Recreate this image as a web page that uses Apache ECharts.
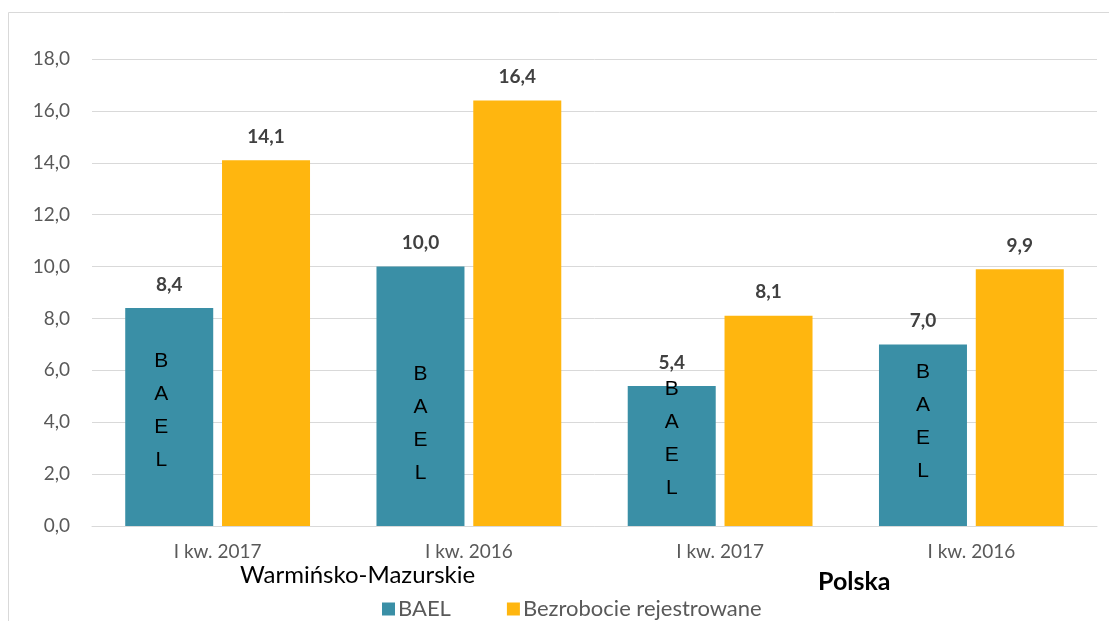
<!DOCTYPE html>
<html>
<head>
<meta charset="utf-8">
<script src="https://cdn.jsdelivr.net/npm/echarts@6/dist/echarts.min.js"></script>
<style>
  html, body { margin: 0; padding: 0; background: #fff; }
  #chart { width: 1109px; height: 621px; }
</style>
</head>
<body>
<div id="chart"></div>
<script>
// dane
const categories = ['I kw. 2017', 'I kw. 2016', 'I kw. 2017', 'I kw. 2016']
const baelValues = [8.4, 10.0, 5.4, 7.0]
const registeredValues = [14.1, 16.4, 8.1, 9.9]
const seriesNames = ['BAEL', 'Bezrobocie rejestrowane']
const groupNames = ['Warmińsko-Mazurskie', 'Polska']

// przesuniecia napisu "BAEL" w slupkach (tylko styl)
const baelLabelOffsets = [[-8, -6], [0, 27], [0, -17], [0, -13]]

const fmt = (v) => v.toFixed(1).replace('.', ',')
const FONT = 'Lato'

const myEchart = echarts.init(document.getElementById('chart'))

const valueLabel = {
  show: true,
  position: 'top',
  distance: 14,
  fontFamily: FONT,
  fontWeight: 'bold',
  fontSize: 19,
  color: '#404040',
  formatter: (p) => fmt(p.value)
}

const option = {
  animation: false,
  grid: {
    left: 92,
    right: 12,
    top: 59,
    bottom: 95
  },
  legend: {
    data: seriesNames,
    left: 377,
    top: 593,
    icon: 'rect',
    itemWidth: 13,
    itemHeight: 13,
    itemGap: 56,
    textStyle: {
      fontFamily: FONT,
      fontSize: 22,
      color: '#595959',
      padding: [0, 0, 0, -2]
    }
  },
  xAxis: [
    {
      type: 'category',
      data: categories,
      axisTick: { show: false },
      axisLine: { lineStyle: { color: '#d9d9d9' } },
      axisLabel: {
        fontFamily: FONT,
        fontSize: 19,
        color: '#595959',
        margin: 16,
        interval: 0
      }
    },
    {
      // os pomocnicza dla napisow w slupkach BAEL
      type: 'category',
      data: categories,
      show: false
    }
  ],
  yAxis: {
    type: 'value',
    min: 0,
    max: 18,
    interval: 2,
    axisLine: { show: false },
    axisTick: { show: false },
    axisLabel: {
      fontFamily: FONT,
      fontSize: 19,
      color: '#595959',
      margin: 22,
      formatter: (v) => fmt(v)
    },
    splitLine: { lineStyle: { color: '#d9d9d9', width: 1 } }
  },
  series: [
    {
      name: seriesNames[0],
      type: 'bar',
      data: baelValues,
      barWidth: 88,
      itemStyle: { color: '#3a8fa6' },
      label: valueLabel
    },
    {
      name: seriesNames[1],
      type: 'bar',
      data: registeredValues,
      barWidth: 88,
      barGap: '10%',
      itemStyle: { color: '#ffb60f' },
      label: valueLabel
    },
    {
      name: 'BAEL-napis',
      type: 'bar',
      xAxisIndex: 1,
      silent: true,
      data: baelValues.map((v, i) => ({
        value: v,
        label: { offset: baelLabelOffsets[i] }
      })),
      barWidth: 88,
      itemStyle: { color: 'transparent' },
      label: {
        show: true,
        position: 'inside',
        formatter: 'B\nA\nE\nL',
        fontFamily: 'Liberation Sans',
        fontSize: 21,
        lineHeight: 33,
        color: '#000'
      }
    },
    {
      name: 'pusty',
      type: 'bar',
      xAxisIndex: 1,
      silent: true,
      data: [],
      barWidth: 88,
      barGap: '10%'
    }
  ],
  graphic: [
    {
      type: 'rect',
      silent: true,
      shape: { x: 8.5, y: 12.5, width: 1200, height: 700 },
      style: { fill: 'none', stroke: '#d9d9d9', lineWidth: 1 }
    },
    {
      type: 'text',
      left: 240,
      top: 563,
      style: {
        text: groupNames[0],
        fontFamily: FONT,
        fontSize: 24,
        fill: '#000'
      }
    },
    {
      type: 'text',
      left: 818,
      top: 569,
      style: {
        text: groupNames[1],
        fontFamily: FONT,
        fontWeight: 'bold',
        fontSize: 25,
        fill: '#000'
      }
    }
  ]
}

myEchart.setOption(option)
</script>
</body>
</html>
